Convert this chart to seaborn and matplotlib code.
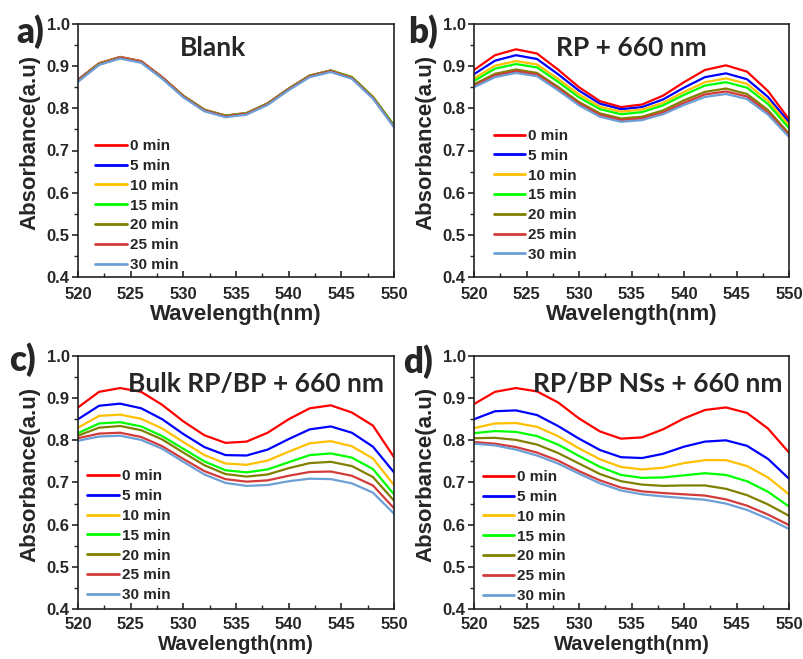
import numpy as np
import pandas as pd
import matplotlib
matplotlib.use("Agg")
import matplotlib.pyplot as plt
from matplotlib.ticker import MultipleLocator
import seaborn as sns

wavelength = [520, 522, 524, 526, 528, 530, 532, 534, 536, 538, 540, 542, 544, 546, 548, 550]
times = ["0 min", "5 min", "10 min", "15 min", "20 min", "25 min", "30 min"]
colors = ["#FF0000", "#0000FF", "#FFC000", "#00FF00", "#808000", "#D33B3B", "#6C9FD6"]

blank = {
    "0 min":  [.868, .907, .922, .912, .874, .830, .797, .783, .789, .812, .847, .878, .890, .874, .827, .759],
    "5 min":  [.867, .906, .921, .911, .873, .829, .796, .782, .788, .811, .846, .877, .889, .873, .826, .758],
    "10 min": [.866, .906, .921, .911, .873, .829, .796, .782, .788, .811, .846, .877, .889, .874, .827, .759],
    "15 min": [.866, .905, .920, .910, .872, .829, .796, .782, .788, .811, .846, .877, .889, .874, .827, .760],
    "20 min": [.865, .905, .920, .910, .872, .828, .795, .781, .787, .810, .845, .876, .888, .873, .826, .758],
    "25 min": [.865, .904, .920, .910, .872, .828, .795, .781, .787, .810, .845, .876, .888, .872, .825, .757],
    "30 min": [.863, .903, .918, .908, .870, .826, .793, .779, .785, .808, .843, .874, .886, .870, .823, .755],
}
rp = {
    "0 min":  [.891, .926, .940, .930, .892, .850, .817, .803, .809, .830, .862, .891, .902, .887, .841, .774],
    "5 min":  [.881, .913, .926, .917, .881, .842, .811, .798, .803, .821, .849, .874, .883, .869, .827, .767],
    "10 min": [.871, .901, .912, .904, .870, .833, .804, .792, .797, .813, .839, .862, .871, .858, .818, .760],
    "15 min": [.865, .894, .905, .897, .863, .826, .798, .786, .791, .807, .832, .854, .862, .849, .810, .753],
    "20 min": [.857, .882, .892, .884, .851, .815, .788, .776, .780, .795, .819, .839, .847, .834, .796, .740],
    "25 min": [.853, .878, .888, .880, .847, .811, .784, .772, .776, .790, .813, .833, .840, .828, .790, .736],
    "30 min": [.850, .874, .884, .876, .843, .807, .780, .768, .772, .786, .808, .827, .834, .822, .785, .732],
}
bulk = {
    "0 min":  [.878, .915, .924, .915, .884, .845, .812, .794, .797, .818, .850, .876, .883, .866, .835, .760],
    "5 min":  [.850, .882, .887, .876, .850, .815, .784, .765, .764, .778, .803, .826, .833, .818, .785, .724],
    "10 min": [.830, .858, .861, .851, .828, .796, .765, .745, .742, .752, .773, .793, .798, .786, .757, .694],
    "15 min": [.817, .840, .843, .833, .810, .780, .750, .729, .724, .731, .748, .765, .769, .759, .732, .672],
    "20 min": [.811, .830, .834, .824, .802, .771, .741, .720, .714, .719, .734, .746, .749, .739, .713, .657],
    "25 min": [.805, .816, .818, .808, .786, .756, .727, .708, .702, .705, .716, .725, .726, .716, .693, .639],
    "30 min": [.799, .809, .811, .801, .780, .749, .719, .699, .692, .694, .703, .709, .708, .698, .676, .626],
}
nss = {
    "0 min":  [.886, .915, .924, .916, .890, .852, .821, .804, .807, .826, .852, .872, .878, .865, .828, .771],
    "5 min":  [.850, .869, .871, .860, .834, .804, .777, .760, .758, .768, .785, .797, .800, .787, .756, .709],
    "10 min": [.829, .840, .841, .832, .810, .781, .755, .737, .731, .735, .746, .753, .753, .739, .712, .672],
    "15 min": [.817, .822, .820, .810, .790, .763, .737, .718, .711, .712, .717, .722, .718, .703, .678, .643],
    "20 min": [.805, .806, .801, .790, .770, .745, .720, .703, .695, .692, .693, .693, .685, .670, .648, .621],
    "25 min": [.796, .792, .784, .771, .752, .727, .705, .688, .679, .675, .672, .669, .660, .645, .624, .599],
    "30 min": [.792, .788, .778, .764, .745, .721, .698, .681, .672, .667, .663, .659, .650, .635, .614, .590],
}

panels = [
    ("a)", "Blank", blank),
    ("b)", "RP + 660 nm", rp),
    ("c)", "Bulk RP/BP + 660 nm", bulk),
    ("d)", "RP/BP NSs + 660 nm", nss),
]

sns.set_theme(style="ticks")
plt.rcParams["font.family"] = ["Liberation Sans", "DejaVu Sans"]
plt.rcParams["font.weight"] = "bold"

W, H = 804, 659
fig = plt.figure(figsize=(W / 100, H / 100), dpi=100)

# axes boxes in pixels: left, top, right, bottom
boxes = [(78, 24, 394, 277), (474, 24, 789, 277), (78, 356, 394, 609), (474, 356, 789, 609)]
legend_pos = [(0.055, 0.545), (0.062, 0.585), (0.030, 0.552), (0.027, 0.549)]
title_pos = [(213, 48), (631, 48), (256, 384), (658, 384)]
letter_pos = [(16, 32), (408, 32), (9, 360), (403, 362)]
xlabel_y = [-0.105, -0.105, -0.1047, -0.1047]
xlabel_fs = [16, 16, 14.5, 14.5]
xtick_pad = [7.5, 7.5, 5.5, 5.5]

for (letter, title, data), box, lpos, tpos, lp, xly, xfs, xpad in zip(
        panels, boxes, legend_pos, title_pos, letter_pos, xlabel_y, xlabel_fs, xtick_pad):
    l, t, r, b = box
    ax = fig.add_axes([l / W, 1 - b / H, (r - l) / W, (b - t) / H])
    rows = []
    for tm in times:
        for wl, v in zip(wavelength, data[tm]):
            rows.append({"Wavelength": wl, "Absorbance": v, "Time": tm})
    df = pd.DataFrame(rows)
    sns.lineplot(data=df, x="Wavelength", y="Absorbance", hue="Time", hue_order=times,
                 palette=colors, linewidth=1.6, ax=ax, legend=True)
    ax.set_xlim(520, 550)
    ax.set_ylim(0.4, 1.0)
    ax.xaxis.set_major_locator(MultipleLocator(5))
    ax.xaxis.set_minor_locator(MultipleLocator(2.5))
    ax.yaxis.set_major_locator(MultipleLocator(0.1))
    ax.yaxis.set_minor_locator(MultipleLocator(0.05))
    ax.set_yticklabels([f"{v:.1f}" for v in ax.get_yticks()])
    ax.tick_params(axis="x", which="major", direction="in", length=4, width=1.2, labelsize=12, pad=xpad)
    ax.tick_params(axis="x", which="minor", direction="in", length=3, width=1.0)
    ax.tick_params(axis="y", which="major", direction="out", length=4, width=1.2, labelsize=12, pad=2)
    ax.tick_params(axis="y", which="minor", direction="out", length=3, width=1.0)
    for lab in ax.get_xticklabels() + ax.get_yticklabels():
        lab.set_fontweight("bold")
    for s in ax.spines.values():
        s.set_visible(True)
        s.set_linewidth(1.2)
        s.set_color("#222222")
    ax.set_xlabel("Wavelength(nm)", fontsize=xfs, fontweight="bold")
    ax.set_ylabel("Absorbance(a.u)", fontsize=16, fontweight="bold")
    ax.xaxis.set_label_coords(0.5, xly)
    ax.yaxis.set_label_coords(-0.118, 0.532)
    handles, labels = ax.get_legend_handles_labels()
    for h in handles:
        h.set_linewidth(2.0)
    leg = ax.legend(handles, labels, loc="upper left", bbox_to_anchor=lpos, frameon=False,
                    handlelength=2.05, handletextpad=0.2, labelspacing=0.38,
                    borderpad=0, borderaxespad=0, prop={"weight": "bold", "size": 11})
    fig.text(tpos[0] / W, 1 - tpos[1] / H, title, ha="center", va="center",
             fontsize=19, fontweight="bold", family=["Lato", "DejaVu Sans"])
    fig.text(lp[0] / W, 1 - lp[1] / H, letter, ha="left", va="center",
             fontsize=25, fontweight="heavy", family=["Lato", "DejaVu Sans"])

fig.savefig("out.png", dpi=100)
